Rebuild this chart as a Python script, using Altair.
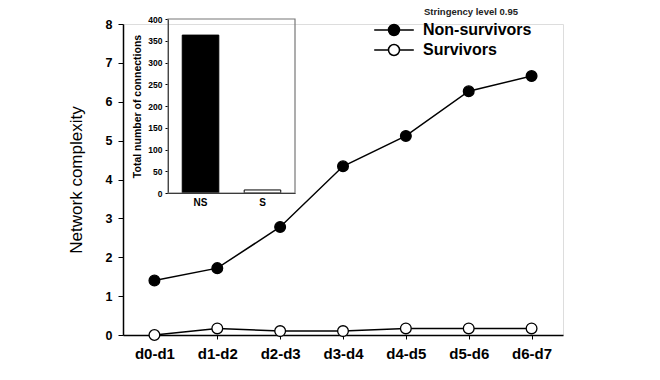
import altair as alt
import pandas as pd

categories = ["d0-d1", "d1-d2", "d2-d3", "d3-d4", "d4-d5", "d5-d6", "d6-d7"]
non_survivors = [1.40, 1.72, 2.78, 4.34, 5.12, 6.27, 6.66]
survivors = [0.0, 0.17, 0.10, 0.10, 0.17, 0.17, 0.17]
series_names = ["Non-survivors", "Survivors"]

inset_groups = ["NS", "S"]
inset_values = [363, 7]

legend_title = "Stringency level 0.95"
FONT = "Liberation Sans"

rows = []
for c, v in zip(categories, non_survivors):
    rows.append({"period": c, "value": v, "series": series_names[0]})
for c, v in zip(categories, survivors):
    rows.append({"period": c, "value": v, "series": series_names[1]})
df = pd.DataFrame(rows)

inset_df = pd.DataFrame({"group": inset_groups, "total": inset_values,
                         "fillc": ["black", "white"]})

xenc = alt.X("period:N", sort=categories,
             scale=alt.Scale(type="point", padding=0.5),
             axis=alt.Axis(title=None, labelAngle=0, labelFont=FONT, labelFontSize=15,
                           labelFontWeight="bold", labelColor="black", tickSize=4,
                           tickColor="black", domainColor="black", domainWidth=1.5,
                           labelPadding=7, grid=False))
yenc = alt.Y("value:Q", scale=alt.Scale(domain=[0, 8], nice=False),
             axis=alt.Axis(title="Network complexity", values=list(range(9)),
                           titleFont=FONT, titleFontSize=17, titleFontWeight="normal",
                           titleColor="black", titlePadding=20,
                           labelFont=FONT, labelFontSize=12.5, labelFontWeight="bold",
                           labelColor="black", tickSize=5, tickColor="black",
                           domainColor="black", domainWidth=1.5, labelPadding=6, grid=False))

lines = alt.Chart(df).mark_line(color="black", strokeWidth=1.5).encode(
    x=xenc, y=yenc, detail="series:N")

legend_path = "M-3.6,0H-1M1,0H3.6M-1,0A1,1,0,1,1,1,0A1,1,0,1,1,-1,0Z"
points = alt.Chart(df).mark_point(filled=True, size=115, stroke="black",
                                  strokeWidth=1.3, opacity=1).encode(
    x=xenc, y=yenc,
    fill=alt.Fill("series:N", scale=alt.Scale(domain=series_names, range=["black", "white"]),
                  legend=alt.Legend(title=None, orient="none", legendX=263, legendY=-2,
                                    symbolType=legend_path, symbolSize=121,
                                    symbolStrokeColor="black", symbolStrokeWidth=1.5,
                                    labelFont=FONT, labelFontSize=16, labelFontWeight="bold",
                                    labelColor="black", labelOffset=21, rowPadding=2,
                                    padding=0)),
)

main = alt.layer(lines, points)

bars = alt.Chart(inset_df).mark_bar(stroke="black", strokeWidth=1).encode(
    x=alt.X("group:N", sort=inset_groups,
            scale=alt.Scale(range=[45, 172], paddingInner=0.41, paddingOuter=0.23),
            axis=alt.Axis(title=None, orient="bottom", offset=-142, labelAngle=0,
                          labelFont=FONT, labelFontSize=10, labelFontWeight="bold",
                          labelColor="black", tickSize=0, labelPadding=4,
                          domainColor="black", grid=False)),
    y=alt.Y("total:Q", scale=alt.Scale(domain=[0, 400], range=[169, -5], nice=False),
            axis=alt.Axis(title="Total number of connections", orient="left", offset=-45,
                          values=list(range(0, 401, 50)),
                          titleFont=FONT, titleFontSize=10.5, titleFontWeight="bold",
                          titleColor="black", titlePadding=5,
                          labelFont=FONT, labelFontSize=8.5, labelFontWeight="bold",
                          labelColor="black", tickSize=3, tickColor="black",
                          domainColor="black", labelPadding=3, grid=False)),
    fill=alt.Fill("fillc:N", scale=None),
)

frame = alt.Chart(pd.DataFrame({"k": [0]})).mark_rect(
    fill=None, stroke="#777777", strokeWidth=1.2).encode(
    x=alt.value(45), x2=alt.value(172), y=alt.value(-5), y2=alt.value(169))

title_text = alt.Chart(pd.DataFrame({"t": [legend_title]})).mark_text(
    align="left", baseline="middle", font=FONT, fontSize=9.5, fontWeight="bold",
    color="#222222").encode(x=alt.value(301), y=alt.value(-12), text="t:N")

chart = alt.layer(main, bars, frame, title_text).resolve_scale(
    x="independent", y="independent").properties(
    width=440, height=311,
    autosize=alt.AutoSizeParams(type="none"),
    padding={"left": 123, "top": 24, "right": 97, "bottom": 45},
).configure_view(stroke=None).configure(background="white")

chart.save("out.html", embed_options={"renderer": "svg", "actions": False})
